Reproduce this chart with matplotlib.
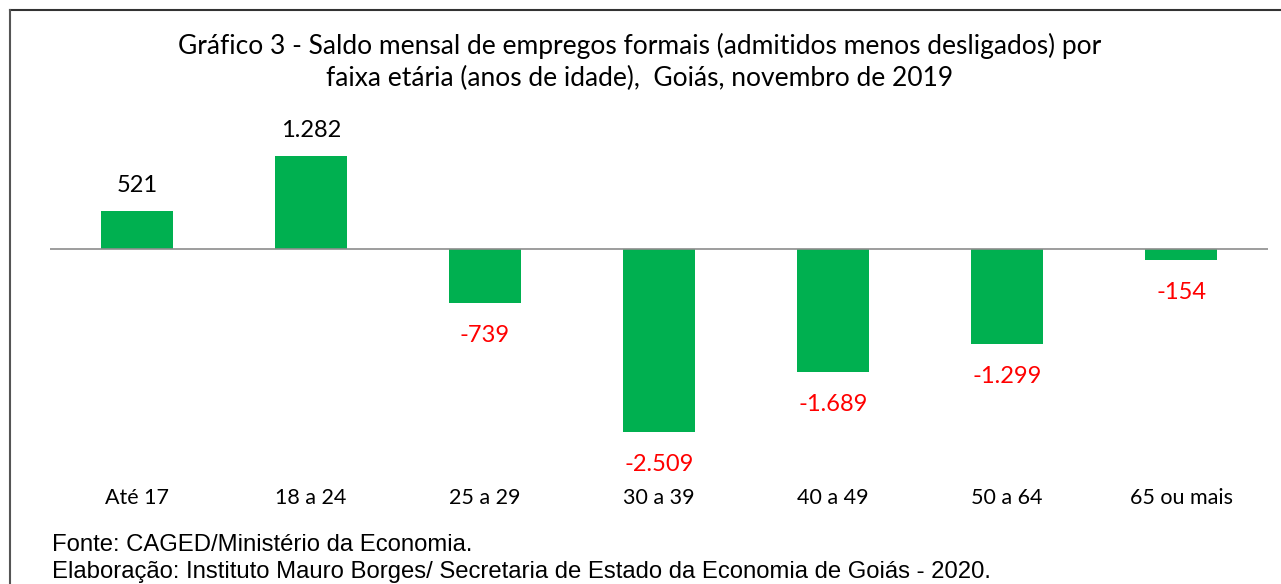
import numpy as np
import matplotlib.pyplot as plt
from matplotlib.lines import Line2D

# dados do gráfico
faixas = ['Até 17', '18 a 24', '25 a 29', '30 a 39', '40 a 49', '50 a 64', '65 ou mais']
saldo = [521, 1282, -739, -2509, -1689, -1299, -154]

titulo = ('Gráfico 3 - Saldo mensal de empregos formais (admitidos menos desligados) por\n'
          'faixa etária (anos de idade),  Goiás, novembro de 2019')
fonte = 'Fonte: CAGED/Ministério da Economia.'
elab = 'Elaboração: Instituto Mauro Borges/ Secretaria de Estado da Economia de Goiás - 2020.'

verde = '#00B050'
vermelho = '#FF0000'

plt.rcParams['font.family'] = ['Lato', 'DejaVu Sans']

W, H = 1281, 584
fig = plt.figure(figsize=(W / 100, H / 100), dpi=100)

# axes placed in pixel coordinates: x from 50 to 1268, zero line at y=249
ymin, ymax = -3100, 1800
px_per_unit = 0.0729
top_px = 249 - ymax * px_per_unit
bot_px = 249 - ymin * px_per_unit
ax = fig.add_axes([50 / W, 1 - bot_px / H, 1218 / W, (bot_px - top_px) / H])

x = np.arange(len(faixas))
ax.bar(x, saldo, width=0.41, color=verde, zorder=2)
ax.axhline(0, color='#8c8c8c', lw=1.2, zorder=3)
ax.set_xlim(-0.5, len(faixas) - 0.5)
ax.set_ylim(ymin, ymax)
ax.axis('off')

def fmt(v):
    return f'{v:,}'.replace(',', '.')

for xi, v in zip(x, saldo):
    if v >= 0:
        ax.annotate(fmt(v), (xi, v), xytext=(0, 10.5), textcoords='offset points',
                    ha='center', va='bottom', fontsize=17, color='black')
    else:
        ax.annotate(fmt(v), (xi, v), xytext=(0, -16), textcoords='offset points',
                    ha='center', va='top', fontsize=17, color=vermelho)

# rótulos das categorias
for xi, lab in zip(x, faixas):
    fig.text((50 + (xi + 0.5) * 174) / W, 1 - 498 / H, lab, ha='center', va='center',
             fontsize=15.5)

fig.text(640 / W, 1 - 62 / H, titulo, ha='center', va='center', fontsize=19,
         linespacing=1.3)

fig.text(52 / W, 1 - 545 / H, fonte, ha='left', va='center', fontsize=17.2,
         family=['Liberation Sans', 'DejaVu Sans'])
fig.text(52 / W, 1 - 572 / H, elab, ha='left', va='center', fontsize=17.2,
         family=['Liberation Sans', 'DejaVu Sans'])

# moldura
fig.add_artist(Line2D([9.5 / W, 1], [1 - 10 / H, 1 - 10 / H], color='#333333', lw=1.5,
                      transform=fig.transFigure))
fig.add_artist(Line2D([9.5 / W, 9.5 / W], [1 - 10 / H, 0], color='#555555', lw=1.5,
                      transform=fig.transFigure))

fig.savefig('out.png', dpi=100)
